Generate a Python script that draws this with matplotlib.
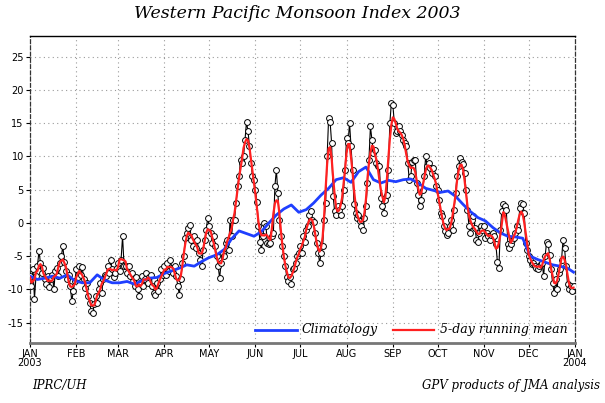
import numpy as np
import pandas as pd
import matplotlib
matplotlib.use("Agg")
import matplotlib.pyplot as plt
from matplotlib.lines import Line2D

# ---------------- data ----------------
year_label = "2003"
month_starts = [0, 31, 59, 90, 120, 151, 181, 212, 243, 273, 304, 334, 365]
month_labels = ["JAN\n2003", "FEB", "MAR", "APR", "MAY", "JUN", "JUL",
                "AUG", "SEP", "OCT", "NOV", "DEC", "JAN\n2004"]

jan = [-8.0, -9.5, -7.0, -11.4, -8.0, -6.5, -4.2, -6.0, -7.5, -6.8,
       -8.5, -9.2, -8.0, -9.6, -8.5, -7.8, -10.0, -7.2, -6.8, -8.0,
       -6.0, -5.0, -3.5, -5.8, -7.2, -8.5, -7.8, -9.5, -11.8, -10.2, -8.8]
feb = [-7.0, -8.2, -6.5, -7.8, -6.7, -8.5, -9.8, -9.0, -11.0, -12.0,
       -13.3, -13.5, -12.2, -11.0, -12.0, -10.0, -9.0, -10.5, -8.5, -7.8,
       -8.0, -6.5, -7.5, -5.5, -7.0, -8.2, -7.5, -6.8]
mar = [-6.0, -7.2, -5.5, -2.0, -6.5, -6.5, -7.5, -6.5, -8.0, -7.5,
       -8.8, -9.5, -8.2, -10.0, -11.0, -9.0, -8.0, -9.5, -8.5, -7.5,
       -9.0, -8.2, -7.8, -9.5, -10.5, -10.8, -9.0, -10.2, -8.5, -7.0, -7.8]
apr = [-6.5, -7.8, -6.0, -7.2, -5.5, -6.8, -7.5, -6.5, -8.0, -9.5,
       -10.8, -8.5, -6.0, -5.0, -2.2, -1.5, -0.8, -0.3, -2.5, -3.5,
       -2.0, -3.8, -2.5, -4.5, -5.5, -6.5, -4.0, -2.5, -1.0, 0.7]
may = [-0.5, -1.5, -3.0, -2.0, -3.5, -5.0, -6.5, -8.3, -6.0, -4.5,
       -5.0, -3.0, -2.5, -4.0, 0.5, -2.0, 0.5, 0.5, 3.0, 5.5,
       7.0, 9.5, 9.0, 10.0, 12.5, 15.2, 13.8, 11.5, 9.0, 7.0, 6.5]
jun = [5.0, 3.2, -0.5, -2.8, -4.0, -2.0, 0.0, -0.5, -3.0, -3.2,
       -3.0, -2.0, -1.5, 5.5, 8.0, 4.5, 0.5, -2.0, -3.5, -5.0,
       -6.5, -8.2, -8.8, -8.2, -9.2, -7.0, -6.8, -6.0, -5.0, -4.5]
jul = [-3.5, -4.5, -2.0, -2.8, -1.0, -0.5, 1.2, 1.8, 0.5, 0.2,
       -1.5, -3.0, -4.5, -6.0, -4.5, -3.5, 0.5, 3.0, 10.0, 15.8,
       15.2, 12.0, 4.0, 1.8, 1.2, 2.5, 2.0, 1.2, 2.5, 5.0, 8.0]
aug = [12.8, 12.0, 15.0, 11.5, 8.0, 2.8, 1.5, 0.8, 1.2, 0.3,
       -0.5, -1.0, 0.8, 2.5, 6.0, 9.5, 14.5, 12.5, 10.5, 11.0,
       9.0, 8.5, 8.5, 3.8, 2.5, 1.5, 3.5, 4.2, 8.0, 15.0, 18.0]
sep = [17.8, 15.0, 13.5, 13.8, 14.5, 13.8, 13.2, 12.5, 12.0, 11.5,
       9.0, 6.5, 7.0, 9.2, 9.5, 9.5, 6.0, 4.2, 2.5, 3.5,
       5.0, 7.0, 10.0, 8.5, 9.0, 8.2, 7.5, 8.2, 7.0, 5.5]
oct_ = [5.0, 3.5, 1.5, 1.0, -0.5, -1.2, -1.8, -1.5, -0.5, 0.5,
        -1.0, 2.0, 4.5, 7.0, 8.5, 9.8, 9.2, 8.8, 7.5, 5.0,
        2.0, -0.5, -1.5, 0.5, 1.0, -0.8, -2.5, -2.8, -1.5, -0.5, -1.0]
nov = [-0.5, -2.2, -1.5, -2.0, -2.5, -1.8, -1.5, -2.0, -3.2, -5.8,
       -6.8, -1.0, 1.8, 2.8, 2.5, 2.0, -3.2, -3.8, -3.2, -2.5,
       -2.2, -1.5, -0.5, -1.0, 2.2, 3.0, 2.8, 1.5, -3.0, -4.0]
dec = [-5.0, -5.5, -6.2, -6.0, -6.5, -6.8, -7.0, -6.5, -6.2, -6.0,
       -8.0, -5.0, -2.8, -3.2, -4.8, -7.0, -9.0, -10.5, -8.5, -10.0,
       -7.5, -7.0, -5.5, -2.5, -3.8, -6.5, -9.2, -10.0, -9.5, -10.2, -9.5]

clim_days = [0, 5, 10, 15, 20, 25, 30, 35, 40, 45, 50, 55, 60, 65, 70, 75,
             80, 85, 90, 95, 100, 105, 110, 115, 120, 125, 130, 135, 140,
             145, 150, 155, 160, 165, 170, 175, 180, 185, 190, 195, 200,
             205, 210, 215, 220, 225, 230, 235, 240, 245, 250, 255, 260,
             265, 270, 275, 280, 285, 290, 295, 300, 305, 310, 315, 320,
             325, 330, 335, 340, 345, 350, 355, 360, 364]
clim_vals = [-8.0, -8.5, -8.3, -8.0, -8.3, -7.8, -8.7, -9.0, -9.0, -7.8,
             -8.6, -9.0, -9.0, -8.8, -9.2, -8.7, -8.3, -8.2, -7.6, -7.2,
             -6.8, -6.3, -6.5, -5.8, -5.2, -4.8, -4.0, -2.4, -1.2, -1.6,
             -2.0, -1.3, 0.0, 1.2, 2.1, 2.7, 1.6, 2.0, 3.0, 4.2, 5.2,
             6.5, 6.8, 6.1, 7.7, 8.4, 6.5, 6.0, 6.4, 6.2, 6.5, 6.6, 6.0,
             5.2, 4.9, 4.6, 4.8, 4.0, 2.8, 1.7, 0.8, 0.3, -0.7, -1.5, -2.0,
             -2.1, -2.3, -5.0, -5.5, -5.9, -6.3, -6.5, -6.8, -7.4]

yticks = [-15, -10, -5, 0, 5, 10, 15, 20, 25]

# ---------------- figure ----------------
daily = np.array(jan + feb + mar + apr + may + jun + jul + aug + sep + oct_ + nov + dec)
days = np.arange(len(daily))
running = pd.Series(daily).rolling(5, center=True, min_periods=1).mean().values

fig = plt.figure(figsize=(6.05, 4.03), dpi=100)
ax = fig.add_axes([30 / 605, 1 - 343 / 403, 545 / 605, 307 / 403])

tickfont = dict(family=["Liberation Sans Narrow", "DejaVu Sans"], size=7)
serif_it = dict(family=["DejaVu Serif"], style="italic")

ax.set_xlim(0, 365)
ax.set_ylim(-18.05, 28.1)
ax.set_xticks(month_starts)
ax.set_xticklabels(month_labels, fontdict=tickfont, linespacing=0.85)
ax.set_yticks(yticks)
ax.set_yticklabels([str(t) for t in yticks], fontdict=tickfont)
ax.tick_params(axis="both", direction="out", length=3, width=0.8, colors="black", pad=1.5)

ax.grid(True, color="#9a9a9a", linestyle=(0, (1, 3)), linewidth=0.8)
ax.set_axisbelow(True)

for side in ["left", "right"]:
    ax.spines[side].set_linestyle((0, (3, 2)))
    ax.spines[side].set_linewidth(0.9)
    ax.spines[side].set_color("#333333")
ax.spines["top"].set_linewidth(1.0)
ax.spines["top"].set_color("black")
ax.spines["bottom"].set_linewidth(2.0)
ax.spines["bottom"].set_color("#777777")

ax.plot(days, daily, color="black", linewidth=0.8, marker="o", markersize=4.2,
        markerfacecolor="white", markeredgecolor="black", markeredgewidth=0.7, zorder=3)
ax.plot(clim_days, clim_vals, color="#1f3fff", linewidth=2.0, zorder=4)
ax.plot(days, running, color="#ff2020", linewidth=1.6, zorder=5)

# legend
fig.add_artist(Line2D([255 / 605, 297 / 605], [73 / 403, 73 / 403], color="#1f3fff", linewidth=2.0))
fig.text(302 / 605, 73 / 403, "Climatology", ha="left", va="center", fontsize=9, **serif_it)
fig.add_artist(Line2D([393 / 605, 434 / 605], [73 / 403, 73 / 403], color="#ff2020", linewidth=1.6))
fig.text(440 / 605, 73 / 403, "5-day running mean", ha="left", va="center", fontsize=9, **serif_it)

fig.text(297 / 605, 1 - 14 / 403, "Western Pacific Monsoon Index " + year_label,
         ha="center", va="center", fontsize=12.5, **serif_it)
fig.text(32 / 605, 1 - 385 / 403, "IPRC/UH", ha="left", va="center", fontsize=8.5, **serif_it)
fig.text(600 / 605, 1 - 385 / 403, "GPV products of JMA analysis", ha="right", va="center",
         fontsize=8.5, **serif_it)

fig.savefig("out.png", dpi=100)
